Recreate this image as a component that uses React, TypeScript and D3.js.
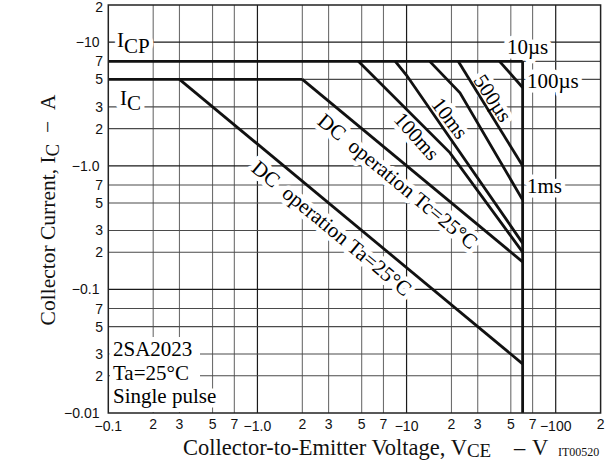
import React from 'react';
import * as d3 from 'd3';

// ---- axis ticks ----
const xTicks = [0.1, 0.2, 0.3, 0.5, 0.7, 1, 2, 3, 5, 7, 10, 20, 30, 50, 70, 100, 200];
const xTickLabels = ['−0.1', '2', '3', '5', '7', '−1.0', '2', '3', '5', '7', '−10', '2', '3', '5', '7', '−100', '2'];
const yTicks = [0.01, 0.02, 0.03, 0.05, 0.07, 0.1, 0.2, 0.3, 0.5, 0.7, 1, 2, 3, 5, 7, 10, 20];
const yTickLabels = ['−0.01', '2', '3', '5', '7', '−0.1', '2', '3', '5', '7', '−1.0', '2', '3', '5', '7', '−10', '2'];

// ---- SOA limits (|VCE| in V, |IC| in A) ----
const icpLine: [number, number][] = [[0.1, 7], [60, 7]];
const icLine: [number, number][] = [[0.1, 5], [2, 5]];
const vceLine: [number, number][] = [[60, 7], [60, 0.01]];
const dcTa: [number, number][] = [[0.3, 5], [60, 0.025]];
const dcTc: [number, number][] = [[2, 5], [60, 0.167]];
const pulse100ms: [number, number][] = [[4.75, 7], [19.5, 1.28], [60, 0.2]];
const pulse10ms: [number, number][] = [[8.4, 7], [10, 5.4], [60, 0.237]];
const pulse1ms: [number, number][] = [[14.3, 7], [22.8, 3.9], [60, 0.53]];
const pulse500us: [number, number][] = [[22.2, 7], [60, 1.0]];
const pulse100us: [number, number][] = [[42, 7], [60, 4.3]];

const curves = [icpLine, icLine, vceLine, dcTa, dcTc, pulse100ms, pulse10ms, pulse1ms, pulse500us, pulse100us];

const SERIF = '"Liberation Serif", "Times New Roman", Times, serif';
const SANS = '"Liberation Sans", Arial, Helvetica, sans-serif';

function isDecade(v: number) {
  const l = Math.log10(v);
  return Math.abs(l - Math.round(l)) < 1e-9;
}

export default function App() {
  const x = d3.scaleLog().domain([0.1, 200]).range([108.3, 600.6]);
  const y = d3.scaleLog().domain([0.01, 20]).range([413, 5]);
  const line = d3.line<[number, number]>().x(d => x(d[0])).y(d => y(d[1]));

  const x0 = x(0.1), x1 = x(200), y0 = y(0.01), y1 = y(20);

  // rotated labels (pixel centers and angles)
  const rotLabels = [
    { t: 'DC\u2002operation Ta=25°C', cx: 332, cy: 228, a: 39.5 },
    { t: 'DC\u2002operation Tc=25°C', cx: 398, cy: 181, a: 39.5 },
    { t: '100ms', cx: 417, cy: 136, a: 48 },
    { t: '10ms', cx: 450, cy: 118, a: 53 },
    { t: '500µs', cx: 493, cy: 98, a: 57 },
  ];

  const labelFont = { fontFamily: SERIF, fontSize: 21 };

  const renderLabels = (halo: boolean) => {
    const p = halo
      ? { fill: '#fff', stroke: '#fff', strokeWidth: 9, strokeLinejoin: 'round' as const }
      : { fill: '#000' };
    return (
      <g {...labelFont} {...p}>
        <text x={117} y={47}>I<tspan dy={6}>CP</tspan></text>
        <text x={120} y={105}>I<tspan dy={5}>C</tspan></text>
        <text x={507} y={54}>10µs</text>
        <text x={527} y={88}>100µs</text>
        <text x={527} y={193}>1ms</text>
        <text x={113} y={356}>2SA2023</text>
        <text x={113} y={380}>Ta=25°C</text>
        <text x={113} y={403}>Single pulse</text>
        {rotLabels.map((l, i) => (
          <text key={i} transform={`translate(${l.cx},${l.cy}) rotate(${l.a})`} textAnchor="middle" dy="0.35em">{l.t}</text>
        ))}
      </g>
    );
  };

  return (
    <div style={{ position: 'absolute', left: 0, top: 0 }}>
      <svg width={615} height={461} viewBox="0 0 615 461" style={{ display: 'block', background: '#fff' }}>
        <rect x={0} y={0} width={615} height={461} fill="#fff" />
        {/* grid */}
        <g>
          {xTicks.slice(1, -1).map((v, i) => (
            <line key={'gx' + i} x1={x(v)} x2={x(v)} y1={y1} y2={y0}
              stroke={isDecade(v) ? '#1a1a1a' : '#6e6e6e'} strokeWidth={isDecade(v) ? 1.2 : 1.1} />
          ))}
          {yTicks.slice(1, -1).map((v, i) => (
            <line key={'gy' + i} x1={x0} x2={x1} y1={y(v)} y2={y(v)}
              stroke={isDecade(v) ? '#1a1a1a' : '#4a4a4a'} strokeWidth={isDecade(v) ? 1.2 : 1.1} />
          ))}
        </g>
        {/* knockouts */}
        <rect x={110} y={337} width={90} height={75} fill="#fff" />
        {renderLabels(true)}
        {/* SOA curves */}
        <g fill="none" stroke="#111" strokeWidth={2.8} strokeLinejoin="miter" strokeLinecap="butt">
          {curves.map((c, i) => <path key={i} d={line(c) || ''} />)}
        </g>
        {/* frame */}
        <rect x={x0} y={y1} width={x1 - x0} height={y0 - y1} fill="none" stroke="#222" strokeWidth={1.5} />
        {renderLabels(false)}
        {/* y tick labels */}
        <g fontFamily={SANS} fontSize={14} fill="#111" textAnchor="end">
          {yTicks.map((v, i) => (
            <text key={'yl' + i} x={isDecade(v) && i !== yTicks.length - 1 ? 99.5 : 103}
              y={Math.max(y(v) + 5, 12)}>{yTickLabels[i]}</text>
          ))}
        </g>
        {/* x tick labels */}
        <g fontFamily={SANS} fontSize={14} fill="#111" textAnchor="middle">
          {xTicks.map((v, i) => (
            <text key={'xl' + i} x={x(v)} y={isDecade(v) ? 431 : 428.5}>{xTickLabels[i]}</text>
          ))}
        </g>
        {/* axis titles */}
        <text x={183} y={455} fontFamily={SERIF} fontSize={22.5} fill="#111">
          Collector-to-Emitter Voltage, V<tspan dy={1.5} fontSize={19}>CE</tspan>
          <tspan x={514} dy={-1.5}>–</tspan><tspan x={532}>V</tspan>
        </text>
        <text x={558} y={456} fontFamily={SERIF} fontSize={12} fill="#111">IT00520</text>
        <text transform="translate(55,210) rotate(-90)" textAnchor="middle" fontFamily={SERIF} fontSize={21.5} fill="#111">
          Collector Current, I<tspan dy={4} fontSize={19}>C</tspan><tspan dy={-4}>{'\u2002−\u2002A'}</tspan>
        </text>
      </svg>
    </div>
  );
}
